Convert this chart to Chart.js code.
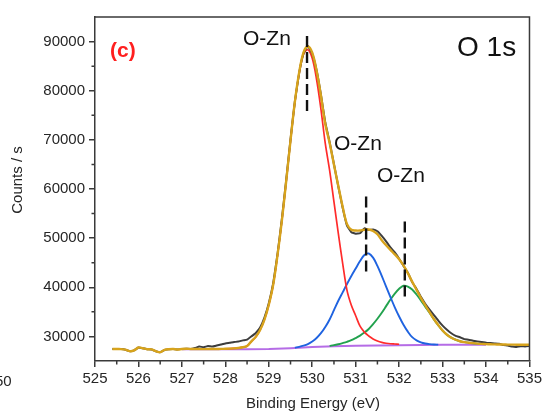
<!DOCTYPE html>
<html>
<head>
<meta charset="utf-8">
<title>O 1s XPS</title>
<script src="https://cdn.jsdelivr.net/npm/chart.js@4.4.1/dist/chart.umd.min.js"></script>
<style>
    html, body { margin: 0; padding: 0; background: #ffffff; }
    #wrap { width: 545px; height: 417px; }
</style>
</head>
<body>
<div id="wrap"><canvas id="xps" width="545" height="417"></canvas></div>
<script>
// Binding energy grid of the measured spectrum (eV)
const energy = [
    525.4, 525.5, 525.6, 525.7, 525.8, 525.9,
    526.0, 526.1, 526.2, 526.3, 526.4, 526.5, 526.6, 526.7, 526.8, 526.9,
    527.0, 527.1, 527.2, 527.3, 527.4, 527.5, 527.6, 527.7, 527.8, 527.9,
    528.0, 528.1, 528.2, 528.3, 528.4, 528.5, 528.6, 528.7, 528.8, 528.9,
    529.0, 529.1, 529.2, 529.3, 529.4, 529.5, 529.6, 529.7, 529.8, 529.9,
    530.0, 530.1, 530.2, 530.3, 530.4, 530.5, 530.6, 530.7, 530.8, 530.9,
    531.0, 531.1, 531.2, 531.3, 531.4, 531.5, 531.6, 531.7, 531.8, 531.9,
    532.0, 532.1, 532.2, 532.3, 532.4, 532.5, 532.6, 532.7, 532.8, 532.9,
    533.0, 533.1, 533.2, 533.3, 533.4, 533.5, 533.6, 533.7, 533.8, 533.9,
    534.0, 534.1, 534.2, 534.3, 534.4, 534.5, 534.6, 534.7, 534.8, 534.9,
    535.0
];

// Raw counts (dark line)
const counts = [
    27440, 27430, 27420, 27300, 27000, 27150,
    27750, 27600, 27400, 27350, 27000, 26800, 27250, 27400, 27450, 27350,
    27450, 27500, 27450, 27640, 27930, 27820, 28030, 27940, 28150, 28360,
    28580, 28710, 28860, 28950, 29200, 29350, 30005, 30710, 31820, 33830,
    36745, 40765, 46690, 53820, 61755, 70095, 77815, 83678, 87617, 89099,
    87520, 84174, 79203, 73524, 69550, 65047, 60494, 56200, 52544, 51202,
    50900, 51000, 52000, 51650, 51750, 51400, 50459, 49348, 48100, 47085,
    45817, 44353, 42969, 41046, 39670, 38057, 36649, 35454, 34354, 33214,
    32194, 31350, 30647, 30125, 29824, 29444, 29323, 29126, 28992, 28881,
    28733, 28650, 28580, 28510, 28250, 28140, 27930, 27870, 28020, 27970,
    28070
];

// Fit envelope (orange line)
const envelope = [
    27440, 27430, 27420, 27300, 27000, 27150,
    27750, 27600, 27400, 27350, 27000, 26800, 27250, 27400, 27450, 27350,
    27450, 27500, 27450, 27440, 27430, 27420, 27430, 27440, 27450, 27460,
    27480, 27510, 27560, 27650, 27800, 28050, 29005, 29910, 31320, 33430,
    36445, 40465, 46490, 53520, 61555, 69895, 77715, 83778, 87817, 88999,
    87720, 84074, 79003, 73224, 69350, 64947, 60594, 56400, 52844, 51702,
    51550, 51550, 51700, 51750, 51450, 50800, 49559, 48548, 47600, 46685,
    45717, 44453, 42869, 41146, 39470, 37857, 36349, 34954, 33554, 32314,
    31194, 30350, 29747, 29325, 29024, 28844, 28723, 28626, 28542, 28481,
    28433, 28400, 28380, 28360, 28350, 28340, 28330, 28320, 28320, 28320,
    28320
];

// Component 1 (red), O-Zn main peak
const redX = [
    527.6, 527.7, 527.8, 527.9, 528.0, 528.1, 528.2, 528.3, 528.4, 528.5,
    528.6, 528.7, 528.8, 528.9, 529.0, 529.1, 529.2, 529.3, 529.4, 529.5,
    529.6, 529.7, 529.8, 529.9, 530.0, 530.1, 530.2, 530.3, 530.4, 530.5,
    530.6, 530.7, 530.8, 530.9, 531.0, 531.1, 531.2, 531.3, 531.4, 531.5,
    531.6, 531.7, 531.8, 531.9, 532.0
];
const redY = [
    27430, 27440, 27450, 27460, 27480, 27510, 27560, 27650, 27800, 28050,
    29005, 29910, 31320, 33430, 36445, 40465, 46490, 53520, 61555, 69895,
    77640, 83590, 87440, 88340, 86590, 82285, 76273, 69270, 63792, 57386,
    50980, 44875, 39382, 36337, 34210, 32083, 30874, 30093, 29496, 29083,
    28792, 28618, 28506, 28455, 28404
];

// Component 2 (blue)
const blueX = [
    529.6, 529.7, 529.8, 529.9, 530.0, 530.1, 530.2, 530.3, 530.4, 530.5,
    530.6, 530.7, 530.8, 530.9, 531.0, 531.1, 531.2, 531.3, 531.4, 531.5,
    531.6, 531.7, 531.8, 531.9, 532.0, 532.1, 532.2, 532.3, 532.4, 532.5,
    532.6, 532.7, 532.8, 532.9
];
const blueY = [
    27715, 27878, 28117, 28449, 28970, 29674, 30655, 31914, 33451, 35354,
    37257, 38966, 40676, 42292, 43813, 45334, 46573, 46871, 46039, 44359,
    42303, 40147, 37992, 35930, 34057, 32373, 30970, 29851, 29202, 28797,
    28557, 28431, 28360, 28328
];

// Component 3 (green)
const greenX = [
    530.4, 530.5, 530.6, 530.7, 530.8, 530.9, 531.0, 531.1, 531.2, 531.3,
    531.4, 531.5, 531.6, 531.7, 531.8, 531.9, 532.0, 532.1, 532.2, 532.3,
    532.4, 532.5, 532.6, 532.7, 532.8, 532.9, 533.0, 533.1, 533.2, 533.3,
    533.4, 533.5, 533.6, 533.7, 533.8, 533.9, 534.0
];
const greenY = [
    28087, 28227, 28417, 28649, 28906, 29223, 29660, 30159, 30778, 31517,
    32499, 33601, 34824, 36163, 37502, 38720, 39696, 40310, 40139, 39545,
    38528, 37330, 36067, 34803, 33479, 32276, 31194, 30350, 29747, 29325,
    29024, 28844, 28723, 28626, 28542, 28481, 28433
];

// Background (purple)
const baseX = [527.0, 528.5, 529.0, 529.5, 530.0, 530.5, 531.0, 531.5, 532.0, 532.5, 533.0, 533.5, 534.0];
const baseY = [27400, 27400, 27445, 27595, 27840, 28010, 28090, 28165, 28220, 28270, 28295, 28300, 28300];

// Peak markers (dashed lines) and their labels
const peakPos = [529.88, 531.24, 532.13];
const dashTop = [91150, 58470, 53390];
const dashBottom = [75490, 42550, 37460];
const peakLabels = ['O-Zn', 'O-Zn', 'O-Zn'];

// Axis ticks
const xTicks = [525, 526, 527, 528, 529, 530, 531, 532, 533, 534, 535];
const xMinorTicks = [525.5, 526.5, 527.5, 528.5, 529.5, 530.5, 531.5, 532.5, 533.5, 534.5];
const yTicks = [30000, 40000, 50000, 60000, 70000, 80000, 90000];
const yMinorTicks = [35000, 45000, 55000, 65000, 75000, 85000];

const FONT = "'Liberation Sans', Arial, sans-serif";
const AXIS_COLOR = '#3a3a3a';
const TEXT_COLOR = '#262626';

function toPoints(xs, ys) {
    return xs.map((x, i) => ({ x: x, y: ys[i] }));
}

function curve(label, xs, ys, color, width, tension) {
    return {
        label: label,
        data: toPoints(xs, ys),
        borderColor: color,
        borderWidth: width,
        pointRadius: 0,
        tension: tension,
        fill: false
    };
}

// Dashed markers first so they are drawn on top
const dashSets = peakPos.map((p, i) => ({
    label: 'marker ' + (i + 1),
    data: [{ x: p, y: dashTop[i] }, { x: p, y: dashBottom[i] }],
    borderColor: '#111111',
    borderWidth: 2.4,
    borderDash: [11, 5],
    pointRadius: 0,
    fill: false
}));

const datasets = [
    ...dashSets,
    curve('Envelope', energy, envelope, '#d7a31c', 2.4, 0.35),
    curve('Raw', energy, counts, '#3d3d3d', 2, 0.1),
    curve('Peak 1', redX, redY, '#ff2b2b', 1.7, 0.35),
    curve('Peak 2', blueX, blueY, '#1f63e0', 1.9, 0.35),
    curve('Peak 3', greenX, greenY, '#22a24e', 1.9, 0.35),
    curve('Background', baseX, baseY, '#b56ce6', 1.9, 0)
];

// Box frame, minor ticks and all free text
const decorations = {
    id: 'decorations',
    afterDraw(chart) {
        const { ctx, chartArea: a, scales } = chart;
        const x = scales.x;
        const y = scales.y;
        ctx.save();

        ctx.strokeStyle = AXIS_COLOR;
        ctx.lineWidth = 1.5;
        ctx.beginPath();
        ctx.moveTo(a.left, a.top);
        ctx.lineTo(a.right, a.top);
        ctx.lineTo(a.right, a.bottom);
        ctx.stroke();

        ctx.beginPath();
        xMinorTicks.forEach(v => {
            const px = x.getPixelForValue(v);
            ctx.moveTo(px, a.bottom);
            ctx.lineTo(px, a.bottom + 3.5);
        });
        yMinorTicks.forEach(v => {
            const py = y.getPixelForValue(v);
            ctx.moveTo(a.left, py);
            ctx.lineTo(a.left - 3.5, py);
        });
        ctx.stroke();

        ctx.fillStyle = '#111111';
        ctx.textBaseline = 'alphabetic';
        ctx.textAlign = 'left';
        ctx.font = '21px ' + FONT;
        const labelPos = [[243, 45], [334, 150], [377, 182]];
        peakLabels.forEach((t, i) => ctx.fillText(t, labelPos[i][0], labelPos[i][1]));

        ctx.font = '28px ' + FONT;
        ctx.fillText('O 1s', 457, 56);

        ctx.fillStyle = '#ff1f1f';
        ctx.font = 'bold 21px ' + FONT;
        ctx.fillText('(c)', 110, 57);

        ctx.fillStyle = TEXT_COLOR;
        ctx.font = '15px ' + FONT;
        ctx.fillText('50', -5, 386);

        ctx.textAlign = 'center';
        ctx.textBaseline = 'middle';
        ctx.fillText('Binding Energy (eV)', 313, 404);

        ctx.translate(18, 180);
        ctx.rotate(-Math.PI / 2);
        ctx.fillText('Counts / s', 0, 0);

        ctx.restore();
    }
};

const chart = new Chart(document.getElementById('xps'), {
    type: 'line',
    data: { datasets: datasets },
    options: {
        responsive: false,
        animation: false,
        devicePixelRatio: 1,
        layout: { padding: { top: 17, right: 12, left: 0, bottom: 0 } },
        plugins: {
            legend: { display: false },
            tooltip: { enabled: false }
        },
        scales: {
            x: {
                type: 'linear',
                min: 525,
                max: 535,
                afterBuildTicks: scale => { scale.ticks = xTicks.map(v => ({ value: v })); },
                afterFit: scale => { scale.height = 56; },
                grid: { drawOnChartArea: false, color: AXIS_COLOR, lineWidth: 1.5, tickLength: 6 },
                border: { color: AXIS_COLOR, width: 1.5 },
                ticks: {
                    color: TEXT_COLOR,
                    font: { family: FONT, size: 15 },
                    padding: 3,
                    maxRotation: 0,
                    callback: v => String(v)
                }
            },
            y: {
                type: 'linear',
                min: 25000,
                max: 95000,
                afterBuildTicks: scale => { scale.ticks = yTicks.map(v => ({ value: v })); },
                afterFit: scale => { scale.width = 95; },
                grid: { drawOnChartArea: false, color: AXIS_COLOR, lineWidth: 1.5, tickLength: 6 },
                border: { color: AXIS_COLOR, width: 1.5 },
                ticks: {
                    color: TEXT_COLOR,
                    font: { family: FONT, size: 15 },
                    padding: 4,
                    callback: v => String(v)
                }
            }
        }
    },
    plugins: [decorations]
});
</script>
</body>
</html>
